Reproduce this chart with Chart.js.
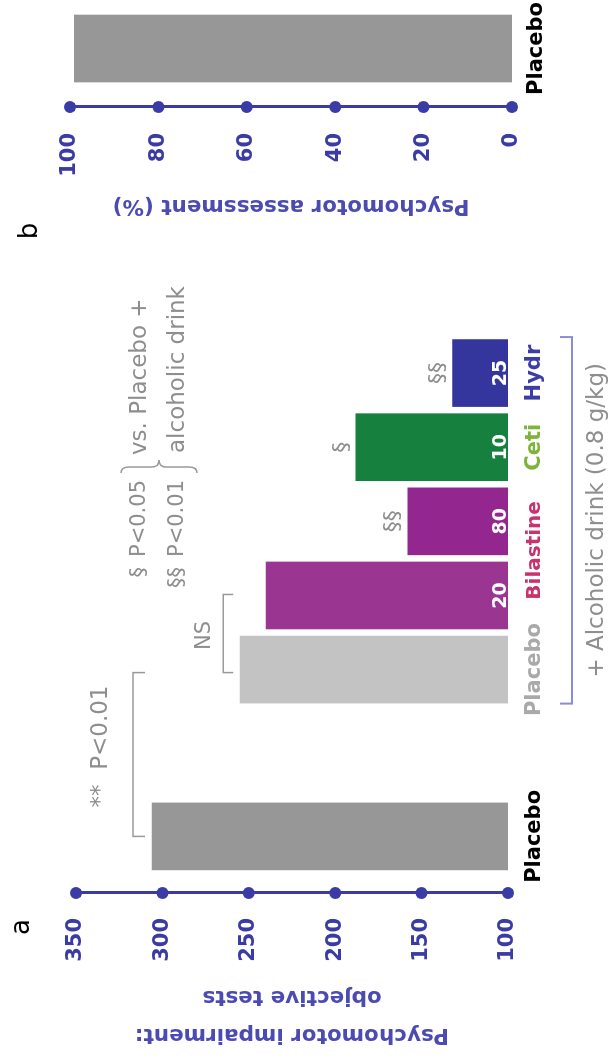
<!DOCTYPE html>
<html>
<head>
<meta charset="utf-8">
<script src="https://cdn.jsdelivr.net/npm/chart.js@4.4.1/dist/chart.umd.min.js"></script>
<style>
  html, body { margin: 0; padding: 0; background: #ffffff; overflow: hidden; width: 610px; height: 1059px; }
  #rot { position: absolute; left: 0; top: 0; width: 1059px; height: 610px;
         transform-origin: 0 0; transform: translateY(1059px) rotate(-90deg); }
  #ca { position: absolute; left: 0; top: 0; }
  #cb { position: absolute; left: 790px; top: 0; }
</style>
</head>
<body>
<div id="rot">
  <canvas id="ca" width="800" height="610"></canvas>
  <canvas id="cb" width="279" height="610"></canvas>
</div>
<script>
// ---------- data ----------
const panelACategory = ['Placebo'];
const panelAValue = [306];
const alcoholCategories = ['Placebo', 'Bilastine', 'Bilastine', 'Ceti', 'Hydr'];
const alcoholDoses = ['', '20', '80', '10', '25'];
const alcoholValues = [255, 240, 158, 188, 132];
const alcoholSignif = ['', '', '§§', '§', '§§'];
const panelATicks = [100, 150, 200, 250, 300, 350];
const panelBCategory = ['Placebo'];
const panelBValue = [99];
const panelBTicks = [0, 20, 40, 60, 80, 100];
const panelATitle = ['Psychomotor impairment:', 'objective tests'];
const panelBTitle = 'Psychomotor assessment (%)';
const alcoholLabel = '+ Alcoholic drink (0.8 g/kg)';
const legendLines = [['§', 'P<0.05', 'vs. Placebo +'], ['§§', 'P<0.01', 'alcoholic drink']];

// ---------- styles ----------
const FONT = 'DejaVu Sans';
const BLUE = '#3b3ba6';
const TITLE_BLUE = '#4b4bb3';
const GRAY_TXT = '#8e8e8e';
const alcoholColors = ['#c3c3c3', '#9a3592', '#93278f', '#16803f', '#35359e'];
const alcoholLabelColors = ['#a9a9a9', '#c8336e', '#c8336e', '#7db43a', '#3d3da8'];

function bracketDown(ctx, xa, xb, y, hook) {
  ctx.beginPath();
  ctx.moveTo(xa, y + hook); ctx.lineTo(xa, y); ctx.lineTo(xb, y); ctx.lineTo(xb, y + hook);
  ctx.stroke();
}

const annotA = {
  id: 'annotA',
  afterDraw(chart) {
    const ctx = chart.ctx;
    const y = chart.scales.y, x1 = chart.scales.x1, x2 = chart.scales.x2;
    const axisX = chart.chartArea.left;
    ctx.save();
    // axis dots
    ctx.fillStyle = BLUE;
    y.ticks.forEach(t => {
      ctx.beginPath(); ctx.arc(axisX, y.getPixelForValue(t.value), 6, 0, Math.PI * 2); ctx.fill();
    });
    // doses inside bars
    ctx.fillStyle = '#ffffff';
    ctx.font = `bold 19px "${FONT}"`;
    ctx.textAlign = 'center'; ctx.textBaseline = 'alphabetic';
    alcoholDoses.forEach((d, i) => { if (d) ctx.fillText(d, x2.getPixelForValue(i), chart.chartArea.bottom - 2); });
    // merged Bilastine label
    ctx.fillStyle = alcoholLabelColors[1];
    ctx.font = `bold 20px "${FONT}"`;
    ctx.textBaseline = 'middle';
    const bilMid = (x2.getPixelForValue(1) + x2.getPixelForValue(2)) / 2 + 8;
    ctx.fillText('Bilastine', bilMid, x2.top + 14 + 12.6);
    // significance symbols
    ctx.fillStyle = GRAY_TXT;
    ctx.font = `22px "${FONT}"`;
    alcoholSignif.forEach((s, i) => {
      if (s) ctx.fillText(s, x2.getPixelForValue(i), y.getPixelForValue(alcoholValues[i]) - 14);
    });
    // NS bracket
    ctx.strokeStyle = '#9a9a9a'; ctx.lineWidth = 1.5;
    const nsA = x2.getPixelForValue(0) - 3, nsB = x2.getPixelForValue(1) + 1;
    const nsY = Math.min(y.getPixelForValue(alcoholValues[0]), y.getPixelForValue(alcoholValues[1])) - 17;
    bracketDown(ctx, nsA, nsB, nsY, 10);
    ctx.font = `21px "${FONT}"`;
    ctx.fillText('NS', (nsA + nsB) / 2 - 2, nsY - 19);
    // ** P<0.01 bracket
    const pA = x1.getPixelForValue(0), pB = x2.getPixelForValue(0) - 3;
    const pY = y.getPixelForValue(Math.max(panelAValue[0], alcoholValues[0])) - 19;
    bracketDown(ctx, pA, pB, pY, 12);
    ctx.font = `23px "${FONT}"`;
    ctx.fillText('**  P<0.01', (pA + pB) / 2 + 8, pY - 32);
    // legend with brace
    const ly = [140, 178];
    legendLines.forEach((ln, k) => {
      ctx.font = `21px "${FONT}"`;
      ctx.textAlign = 'right'; ctx.fillText(ln[0], 492, ly[k]);
      ctx.textAlign = 'left'; ctx.fillText(ln[1], 502, ly[k]);
      ctx.font = `23px "${FONT}"`;
      ctx.fillText(ln[2], 604 + 2 * k, ly[k]);
    });
    const bx = 586, tip = 599, top = 121, mid = 159, bot = 197;
    ctx.beginPath();
    ctx.moveTo(bx, top);
    ctx.quadraticCurveTo(bx + 6, top, bx + 6, top + 8);
    ctx.lineTo(bx + 6, mid - 7);
    ctx.quadraticCurveTo(bx + 6, mid, tip, mid);
    ctx.quadraticCurveTo(bx + 6, mid, bx + 6, mid + 7);
    ctx.lineTo(bx + 6, bot - 8);
    ctx.quadraticCurveTo(bx + 6, bot, bx, bot);
    ctx.stroke();
    // alcohol group bracket
    const aA = x2.getPixelForValue(0) - 34, aB = x2.getPixelForValue(alcoholValues.length - 1) + 36;
    const aY = 572;
    ctx.strokeStyle = '#8c8cd2'; ctx.lineWidth = 2;
    ctx.beginPath();
    ctx.moveTo(aA, aY - 12); ctx.lineTo(aA, aY); ctx.lineTo(aB, aY); ctx.lineTo(aB, aY - 12);
    ctx.stroke();
    ctx.fillStyle = GRAY_TXT; ctx.textAlign = 'center';
    ctx.font = `23px "${FONT}"`;
    ctx.fillText(alcoholLabel, (aA + aB) / 2, 597);
    // panel letter
    ctx.fillStyle = '#000'; ctx.font = `26px "${FONT}"`;
    ctx.fillText('a', 132, 22);
    ctx.restore();
  }
};

const annotB = {
  id: 'annotB',
  afterDraw(chart) {
    const ctx = chart.ctx, y = chart.scales.y;
    const axisX = chart.chartArea.left;
    ctx.save();
    ctx.fillStyle = BLUE;
    y.ticks.forEach(t => {
      ctx.beginPath(); ctx.arc(axisX, y.getPixelForValue(t.value), 6, 0, Math.PI * 2); ctx.fill();
    });
    ctx.fillStyle = '#000'; ctx.font = `26px "${FONT}"`;
    ctx.textAlign = 'center'; ctx.textBaseline = 'middle';
    ctx.fillText('b', 38, 30);
    ctx.restore();
  }
};

const tickFont = { family: FONT, weight: 'bold', size: 21 };
const hiddenCat = (labels, weight, extra) => Object.assign({
  type: 'category', labels: labels, position: 'bottom', stack: 'cats', stackWeight: weight, offset: true,
  grid: { display: false, drawTicks: false }, border: { display: false },
  afterFit: s => { s.height = 102; }
}, extra);

new Chart(document.getElementById('ca'), {
  type: 'bar',
  data: {
    datasets: [
      { label: 'Placebo', data: panelAValue, xAxisID: 'x1', yAxisID: 'y', grouped: false,
        backgroundColor: '#979797', borderWidth: 0, barThickness: 67 },
      { label: alcoholLabel, data: alcoholValues, xAxisID: 'x2', yAxisID: 'y', grouped: false,
        backgroundColor: alcoholColors, borderWidth: 0, barThickness: 67 }
    ]
  },
  options: {
    responsive: false, animation: false, devicePixelRatio: 1,
    layout: { padding: { left: 0, top: 76, right: 77, bottom: 0 } },
    plugins: { legend: { display: false }, tooltip: { enabled: false } },
    scales: {
      x1: hiddenCat(panelACategory, 113, {
        ticks: { padding: 14, color: '#000', font: tickFont, maxRotation: 0, autoSkip: false }
      }),
      xgap: hiddenCat([''], 73, { ticks: { display: false } }),
      x2: hiddenCat(alcoholCategories, 370, {
        ticks: {
          padding: 14, font: tickFont, maxRotation: 0, autoSkip: false,
          color: c => alcoholLabelColors[c.index],
          callback: (v, i) => alcoholCategories[i] === 'Bilastine' ? '' : alcoholCategories[i]
        }
      }),
      y: {
        type: 'linear', position: 'left',
        min: panelATicks[0], max: panelATicks[panelATicks.length - 1],
        ticks: { stepSize: panelATicks[1] - panelATicks[0], padding: 25, color: BLUE, font: tickFont },
        grid: { display: false, drawTicks: false },
        border: { display: true, color: BLUE, width: 3 },
        title: { display: true, text: panelATitle, color: TITLE_BLUE,
                 font: { family: FONT, weight: 'bold', size: 21.5, lineHeight: 1.77 },
                 padding: { top: 5, bottom: 0 } },
        afterFit: s => { s.width = 166; }
      }
    }
  },
  plugins: [annotA]
});

new Chart(document.getElementById('cb'), {
  type: 'bar',
  data: {
    labels: panelBCategory,
    datasets: [{ label: 'Placebo', data: panelBValue, backgroundColor: '#979797', borderWidth: 0, barThickness: 67 }]
  },
  options: {
    responsive: false, animation: false, devicePixelRatio: 1,
    layout: { padding: { left: 0, top: 70, right: 0, bottom: 0 } },
    plugins: { legend: { display: false }, tooltip: { enabled: false } },
    scales: {
      x: {
        grid: { display: false, drawTicks: false }, border: { display: false },
        ticks: { padding: 12, color: '#000', font: tickFont, maxRotation: 0 },
        afterFit: s => { s.height = 98; }
      },
      y: {
        min: panelBTicks[0], max: panelBTicks[panelBTicks.length - 1],
        ticks: { stepSize: panelBTicks[1] - panelBTicks[0], padding: 26, color: BLUE, font: tickFont },
        grid: { display: false, drawTicks: false },
        border: { display: true, color: BLUE, width: 3 },
        title: { display: true, text: panelBTitle, color: TITLE_BLUE,
                 font: { family: FONT, weight: 'bold', size: 21.5 },
                 padding: { top: 51, bottom: 0 } },
        afterFit: s => { s.width = 162; }
      }
    }
  },
  plugins: [annotB]
});
</script>
</body>
</html>
